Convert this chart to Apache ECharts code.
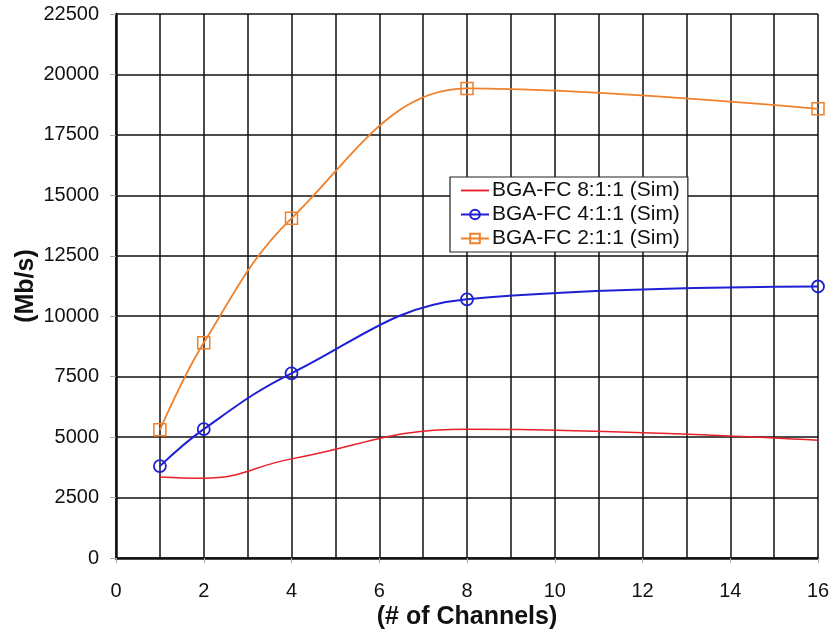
<!DOCTYPE html>
<html><head><meta charset="utf-8">
<script src="https://cdn.jsdelivr.net/npm/echarts@6/dist/echarts.min.js"></script>
<style>html,body{margin:0;padding:0;background:#fff}#c{width:834px;height:631px}</style>
</head><body><div id="c"></div>
<script>
const channels = [1, 2, 4, 8, 16];
const fc811 = [3350, 3300, 4100, 5330, 4870];
const fc411 = [3800, 5330, 7640, 10700, 11230];
const fc211 = [5300, 8900, 14050, 19420, 18580];
const xTicks = [0, 2, 4, 6, 8, 10, 12, 14, 16];
const yTicks = [0, 2500, 5000, 7500, 10000, 12500, 15000, 17500, 20000, 22500];
const seriesNames = ['BGA-FC 8:1:1 (Sim)', 'BGA-FC 4:1:1 (Sim)', 'BGA-FC 2:1:1 (Sim)'];
const pair = v => channels.map((c, i) => [c, v[i]]);
const font = 'Liberation Sans, Arial, sans-serif';
const RED = '#e8202a', BLUE = '#1f1fd6', ORANGE = '#f0802a';
const chart = echarts.init(document.getElementById('c'));
chart.setOption({
  animation: false,
  backgroundColor: '#fff',
  grid: { left: 116, right: 16, top: 14, bottom: 73, outerBoundsMode: 'none', containLabel: false },
  legend: {
    orient: 'vertical', left: 450, top: 177, padding: [3, 8, 3, 10],
    backgroundColor: '#fff', borderColor: '#222', borderWidth: 1.2, borderRadius: 0,
    itemWidth: 28, itemHeight: 12, itemGap: 3,
    textStyle: { fontFamily: font, fontSize: 21, color: '#111', padding: [0, 0, 0, -2] },
    data: [
      { name: seriesNames[0], icon: 'path://M0,0 L30,0 L30,2 L0,2 Z', itemStyle: { color: RED } },
      seriesNames[1], seriesNames[2]
    ]
  },
  xAxis: {
    type: 'value', min: xTicks[0], max: xTicks[xTicks.length - 1], interval: 2,
    name: '(# of Channels)', nameLocation: 'middle', nameGap: 47, nameMoveOverlap: false,
    nameTextStyle: { fontFamily: font, fontSize: 25, fontWeight: 'bold', color: '#111' },
    axisLine: { show: true, lineStyle: { color: '#111', width: 2.5 } },
    axisTick: { show: true, length: 5, lineStyle: { color: '#aaa' } },
    axisLabel: { fontFamily: font, fontSize: 20, color: '#111', margin: 23 },
    splitLine: { show: true, lineStyle: { color: '#111', width: 1.5 } },
    minorTick: { show: false, splitNumber: 2 },
    minorSplitLine: { show: true, lineStyle: { color: '#111', width: 1.5 } }
  },
  yAxis: {
    type: 'value', min: yTicks[0], max: yTicks[yTicks.length - 1], interval: 2500,
    name: '(Mb/s)', nameLocation: 'middle', nameGap: 77, nameMoveOverlap: false,
    nameTextStyle: { fontFamily: font, fontSize: 25, fontWeight: 'bold', color: '#111' },
    axisLine: { show: true, lineStyle: { color: '#111', width: 2.5 } },
    axisTick: { show: true, length: 6, lineStyle: { color: '#aaa' } },
    axisLabel: { fontFamily: font, fontSize: 20, color: '#111', margin: 17,
      formatter: v => String(v) },
    splitLine: { show: true, lineStyle: { color: '#111', width: 1.5 } }
  },
  series: [
    { name: seriesNames[0], type: 'line', smooth: 0.45, data: pair(fc811),
      showSymbol: false, symbol: 'none', lineStyle: { color: RED, width: 1.5 }, itemStyle: { color: RED } },
    { name: seriesNames[1], type: 'line', smooth: 0.4, data: pair(fc411),
      symbol: 'circle', symbolSize: 12, lineStyle: { color: BLUE, width: 2 },
      itemStyle: { color: 'rgba(255,255,255,0)', borderColor: BLUE, borderWidth: 1.8 } },
    { name: seriesNames[2], type: 'line', smooth: 0.38, data: pair(fc211),
      symbol: 'rect', symbolSize: 12, lineStyle: { color: ORANGE, width: 1.8 },
      itemStyle: { color: 'rgba(255,255,255,0)', borderColor: ORANGE, borderWidth: 1.5 } }
  ]
});
</script></body></html>
